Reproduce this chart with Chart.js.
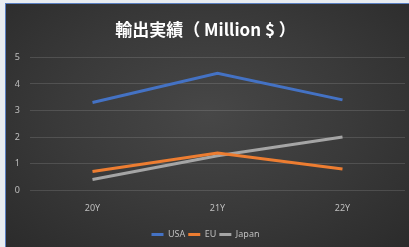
<!DOCTYPE html>
<html>
<head>
<meta charset="utf-8">
<script src="https://cdn.jsdelivr.net/npm/chart.js@4.4.1/dist/chart.umd.min.js"></script>
<style>
  html, body { margin: 0; padding: 0; }
  body { width: 409px; height: 247px; background: #e8ecf0; position: relative; overflow: hidden; }
  #frame {
    position: absolute; left: 5px; top: 3px; width: 404px; height: 244px;
    border-left: 1px solid #5a7fc0; border-top: 1px solid #5a7fc0;
    background: radial-gradient(ellipse at 50% 45%, #474747 0%, #3a3a3a 50%, #2b2b2b 100%);
  }
  #wrap { position: absolute; left: 0; top: 0; width: 403px; height: 243px; }
</style>
</head>
<body>
<div id="frame"><div id="wrap"><canvas id="chart"></canvas></div></div>
<script>
// 輸出実績 (Million $)
const TITLE = '輸出実績（ Million $ ）';
const YEARS = ['20Y', '21Y', '22Y'];
const USA   = [3.3, 4.4, 3.4];
const EU    = [0.7, 1.4, 0.8];
const JAPAN = [0.4, 1.3, 2.0];
const Y_TICKS = [0, 1, 2, 3, 4, 5];

const TXT = '#bfbfbf';
const FONT = "'Noto Sans', 'Liberation Sans', sans-serif";

function line(label, data, color){
  return { label, data, borderColor: color, backgroundColor: color,
           borderWidth: 3, pointRadius: 0, tension: 0, fill: false };
}

new Chart(document.getElementById('chart'), {
  type: 'line',
  data: {
    labels: YEARS,
    datasets: [
      line('USA', USA, '#4472c4'),
      line('EU', EU, '#ed7d31'),
      line('Japan', JAPAN, '#a5a5a5')
    ]
  },
  options: {
    responsive: true,
    maintainAspectRatio: false,
    animation: false,
    layout: { padding: { left: 0, right: 4, top: 0, bottom: -2 } },
    plugins: {
      title: {
        display: true, text: TITLE, color: '#ffffff',
        font: { family: "'Noto Sans CJK JP', 'Noto Sans', sans-serif", size: 17, weight: 'bold' },
        padding: { top: 15, bottom: 18 }
      },
      legend: {
        position: 'bottom',
        labels: {
          color: TXT, font: { family: FONT, size: 9 },
          usePointStyle: true, pointStyle: 'line', pointStyleWidth: 12,
          padding: 3
        }
      },
      tooltip: { enabled: false }
    },
    scales: {
      x: {
        offset: true,
        grid: { display: false, drawTicks: false },
        border: { display: false },
        ticks: { color: TXT, font: { family: FONT, size: 9 }, padding: 13 }
      },
      y: {
        min: Y_TICKS[0], max: Y_TICKS[Y_TICKS.length - 1],
        afterFit: s => { s.width = 24; },
        grid: { color: 'rgba(255,255,255,0.13)', drawTicks: false },
        border: { display: false },
        ticks: { color: TXT, font: { family: FONT, size: 9 }, stepSize: 1, padding: 10 }
      }
    }
  }
});
</script>
</body>
</html>
